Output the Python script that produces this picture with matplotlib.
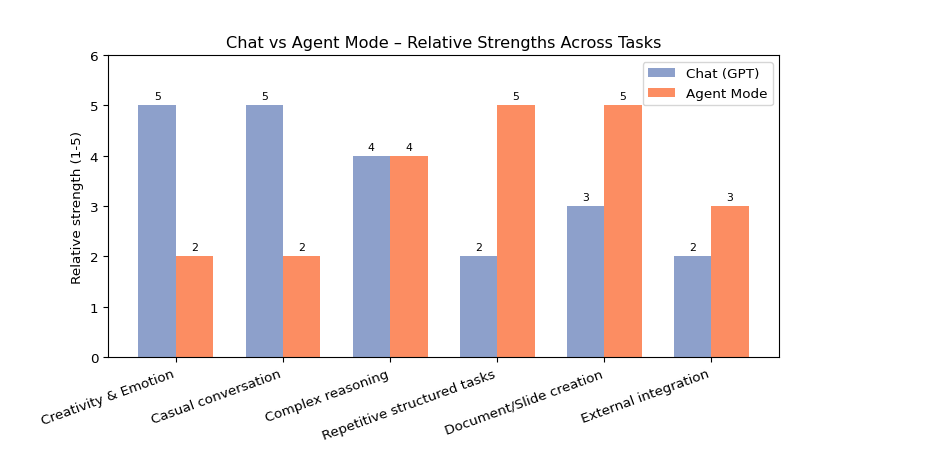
import matplotlib
matplotlib.use("Agg")
import matplotlib.pyplot as plt
import numpy as np

tasks = [
    "Creativity & Emotion",
    "Casual conversation",
    "Complex reasoning",
    "Repetitive structured tasks",
    "Document/Slide creation",
    "External integration",
]
chat_scores = [5, 5, 4, 2, 3, 2]
agent_scores = [2, 2, 4, 5, 5, 3]

plt.rcParams["font.size"] = 9.7

x = np.arange(len(tasks))
width = 0.35

fig, ax = plt.subplots(figsize=(9.42, 4.64), dpi=100)
fig.subplots_adjust(left=0.1146, right=0.8273, top=0.879, bottom=0.2284)

rects1 = ax.bar(x - width / 2, chat_scores, width, label="Chat (GPT)", color="#8da0cb")
rects2 = ax.bar(x + width / 2, agent_scores, width, label="Agent Mode", color="#fc8d62")
ax.bar_label(rects1, padding=3, fontsize=7.8)
ax.bar_label(rects2, padding=3, fontsize=7.8)

ax.set_ylim(0, 6)
ax.set_ylabel("Relative strength (1-5)")
ax.set_title("Chat vs Agent Mode – Relative Strengths Across Tasks", fontsize=11.6)
ax.set_xticks(x)
ax.set_xticklabels(tasks, rotation=20, ha="right")
ax.legend(loc="upper right")

fig.savefig("out.png", dpi=100)
